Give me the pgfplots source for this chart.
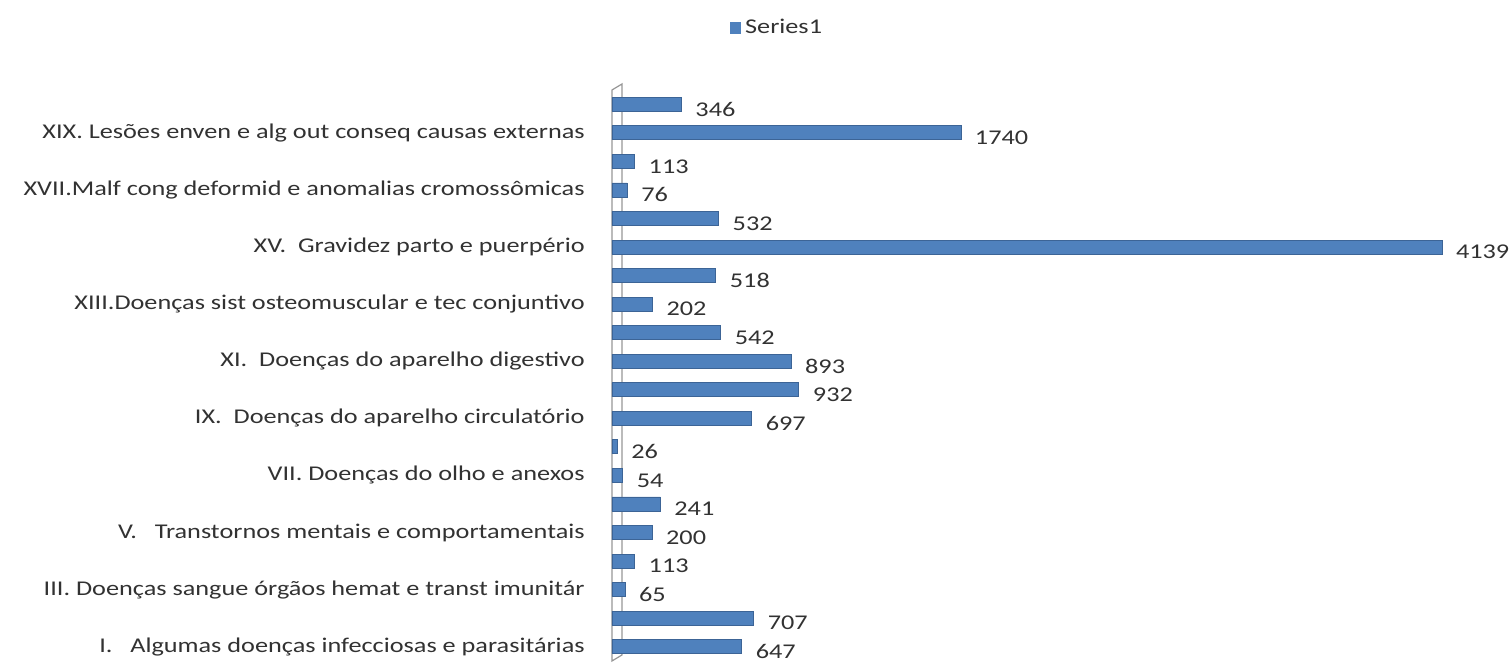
\documentclass[border=0pt]{standalone}
\usepackage{fontspec}
\setmainfont{Carlito}[FakeStretch=1.25]
\usepackage{pgfplots}
\pgfplotsset{compat=1.18}

\definecolor{barblue}{RGB}{79,129,189}
\definecolor{baredge}{RGB}{60,100,150}
\definecolor{txt}{RGB}{50,50,50}
\definecolor{wall}{RGB}{150,150,150}

\begin{document}
\begin{tikzpicture}
\useasboundingbox (0,0) rectangle (755.5pt,331.5pt);
\begin{axis}[
at={(306pt,1pt)}, anchor=south west,
scale only axis,
width=415pt, height=285.5pt,
xbar, bar width=7pt,
xmin=0, xmax=4139,
ymin=0.5, ymax=20.5,
axis x line=none,
axis y line=left,
y axis line style={draw=none},
ytick={1,3,...,19},
ytick style={draw=none},
yticklabels={
I.\ \ \ Algumas doenças infecciosas e parasitárias,
III. Doenças sangue órgãos hemat e transt imunitár,
V.\ \ \ Transtornos mentais e comportamentais,
VII. Doenças do olho e anexos,
IX.\ \ Doenças do aparelho circulatório,
XI.\ \ Doenças do aparelho digestivo,
XIII.Doenças sist osteomuscular e tec conjuntivo,
XV.\ \ Gravidez parto e puerpério,
XVII.Malf cong deformid e anomalias cromossômicas,
XIX. Lesões enven e alg out conseq causas externas},
yticklabel style={font=\fontsize{10.5}{12}\selectfont, text=txt, anchor=east},
yticklabel shift=8pt,
nodes near coords,
nodes near coords style={font=\fontsize{10.5}{12}\selectfont, text=txt, anchor=west, xshift=3.5pt, yshift=-2.5pt,
  /pgf/number format/assume math mode=true, /pgf/number format/1000 sep={}},
clip=false,
legend style={at={(0.2,1.109)}, anchor=center, draw=none, fill=none,
  font=\fontsize{10.5}{12}\selectfont, text=txt,
  legend cell align=left},
legend image code/.code={\fill[barblue] (0pt,-2.6pt) rectangle (5.2pt,2.6pt);},
]
\draw[wall, line width=0.6pt] (rel axis cs:0,0) -- (rel axis cs:0,1)
  -- ([xshift=5pt,yshift=3pt]rel axis cs:0,1) -- ([xshift=5pt,yshift=3pt]rel axis cs:0,0) -- cycle;
\addplot[fill=barblue, draw=baredge, line width=0.4pt] coordinates {
(647,1) (707,2) (65,3) (113,4) (200,5) (241,6) (54,7) (26,8) (697,9) (932,10)
(893,11) (542,12) (202,13) (518,14) (4139,15) (532,16) (76,17) (113,18) (1740,19) (346,20)
};
\addlegendentry{Series1}
\end{axis}
\end{tikzpicture}
\end{document}
